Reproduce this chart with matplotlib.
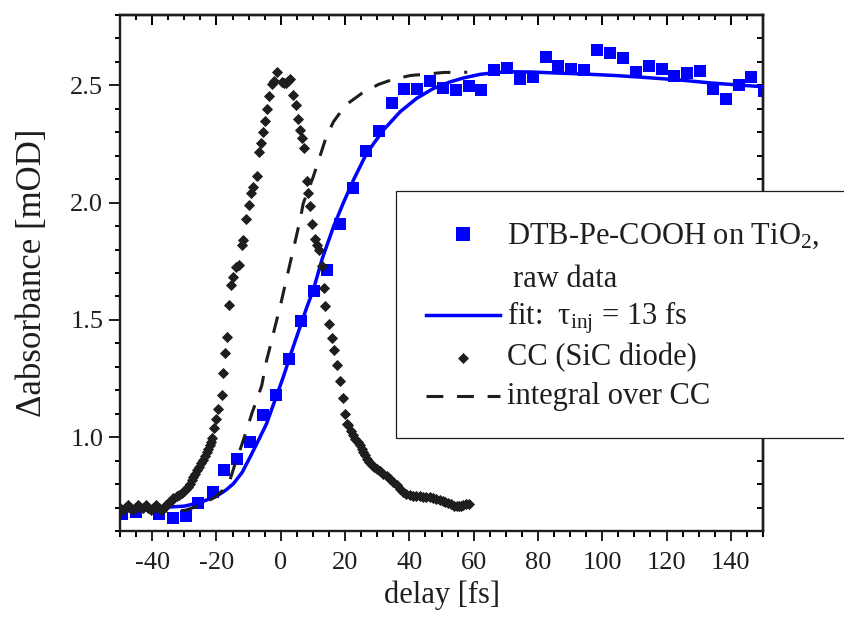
import numpy as np
import matplotlib
matplotlib.use('Agg')
import matplotlib.pyplot as plt
from matplotlib.ticker import MultipleLocator, FixedLocator
from matplotlib.patches import Rectangle
from matplotlib.lines import Line2D

plt.rcParams['font.family'] = ['Liberation Serif', 'DejaVu Serif']
plt.rcParams['mathtext.fontset'] = 'custom'
plt.rcParams['mathtext.rm'] = 'Liberation Serif'
plt.rcParams['mathtext.it'] = 'Liberation Serif:italic'
plt.rcParams['axes.unicode_minus'] = False

# ---------------- data ----------------
raw_x = [-49.3, -45.1, -37.8, -33.6, -29.5, -25.6, -21.0, -17.6, -13.7, -9.5,
         -5.6, -1.5, 2.5, 6.3, 10.4, 14.5, 18.4, 22.6, 26.4, 30.5,
         34.5, 38.4, 42.4, 46.4, 50.4, 54.5, 58.4, 62.2, 66.4, 70.5,
         74.4, 78.4, 82.4, 86.3, 90.3, 94.3, 98.5, 102.4, 106.4, 110.4,
         114.5, 118.5, 122.4, 126.4, 130.4, 134.6, 138.5, 142.5, 146.4, 150.2]
raw_y = [0.671, 0.683, 0.674, 0.657, 0.663, 0.719, 0.766, 0.859, 0.905, 0.980,
         1.096, 1.179, 1.334, 1.496, 1.624, 1.712, 1.911, 2.062, 2.219, 2.305,
         2.425, 2.484, 2.485, 2.518, 2.489, 2.482, 2.496, 2.480, 2.565, 2.575,
         2.526, 2.537, 2.620, 2.582, 2.568, 2.565, 2.651, 2.639, 2.615, 2.557,
         2.582, 2.570, 2.541, 2.551, 2.561, 2.486, 2.442, 2.501, 2.537, 2.477]

fit_x = [-50, -40, -35, -30, -25, -20, -17, -14.7, -12, -9.5,
         -7, -4.4, -2, 0.8, 3.5, 6.0, 8.0, 10.1, 13.0, 16.4,
         19.5, 22.6, 26.7, 31.9, 37.1, 42.3, 47.5, 52.7, 57, 62,
         67, 72, 78, 85, 95, 104, 114, 124, 134, 142, 150]
fit_y = [0.700, 0.700, 0.702, 0.706, 0.722, 0.748, 0.775, 0.802, 0.850, 0.916,
         0.985, 1.058, 1.150, 1.257, 1.370, 1.470, 1.550, 1.627, 1.765, 1.897,
         2.000, 2.096, 2.210, 2.309, 2.387, 2.445, 2.487, 2.515, 2.532, 2.547,
         2.555, 2.558, 2.557, 2.553, 2.548, 2.542, 2.533, 2.523, 2.510, 2.502, 2.494]

cc_x = [-50.0, -49.2, -48.4, -47.6, -46.8, -46.0, -45.2, -44.4, -43.6, -42.8,
        -42.0, -41.2, -40.4, -39.6, -38.8, -38.0, -37.2, -36.4, -35.6, -35.0,
        -34.2, -33.4, -32.4, -31.6, -30.8, -30.0, -29.4, -28.7, -28.2, -27.7,
        -27.2, -26.7, -26.0, -25.3, -24.7, -24.1, -23.5, -23.0, -22.5, -22.0,
        -21.6, -21.3, -20.7, -20.1, -19.4, -18.4, -17.9, -17.3, -16.8, -16.1,
        -15.5, -14.7, -13.9, -12.9, -12.0, -11.6, -10.8, -10.0, -9.3, -8.5,
        -7.5, -6.7, -6.0, -5.4, -4.8, -4.2, -3.5, -2.7, -2.0, -1.1,
        0.4, 1.0, 1.6, 2.3, 2.9, 3.9, 4.7, 5.3, 5.9, 6.5,
        7.3, 8.1, 8.6, 9.1, 9.8, 10.7, 11.4, 11.9, 12.8, 13.3,
        13.9, 15.1, 15.9, 16.7, 17.6, 18.4, 19.5, 20.0, 20.7, 21.0,
        21.8, 22.5, 23.1, 23.9, 24.7, 25.2, 25.7, 26.2, 26.7, 27.5,
        28.3, 29.1, 29.9, 30.9, 31.9, 32.9, 34.0, 35.0, 36.1, 37.1,
        38.1, 39.1, 40.2, 41.2, 42.2, 43.3, 44.3, 45.3, 46.4, 47.4,
        48.4, 49.5, 50.4, 51.2, 52.1, 53.0, 53.9, 54.7, 55.5, 56.2,
        56.8, 57.6, 58.4]
cc_y = [0.700, 0.690, 0.700, 0.710, 0.700, 0.690, 0.700, 0.710, 0.700, 0.700,
        0.710, 0.700, 0.690, 0.700, 0.710, 0.700, 0.690, 0.700, 0.710, 0.720,
        0.730, 0.740, 0.750, 0.755, 0.762, 0.770, 0.780, 0.788, 0.800, 0.816,
        0.830, 0.845, 0.860, 0.873, 0.890, 0.902, 0.920, 0.937, 0.950, 0.966,
        0.980, 0.998, 1.041, 1.079, 1.122, 1.179, 1.274, 1.361, 1.428, 1.563,
        1.648, 1.681, 1.726, 1.736, 1.819, 1.840, 1.930, 1.992, 2.039, 2.067,
        2.113, 2.214, 2.255, 2.302, 2.349, 2.400, 2.456, 2.504, 2.520, 2.556,
        2.515, 2.510, 2.511, 2.520, 2.526, 2.459, 2.416, 2.355, 2.309, 2.274,
        2.231, 2.093, 2.039, 1.985, 1.908, 1.847, 1.819, 1.800, 1.729, 1.637,
        1.559, 1.482, 1.421, 1.371, 1.307, 1.240, 1.165, 1.098, 1.058, 1.050,
        1.027, 1.010, 0.994, 0.980, 0.965, 0.950, 0.937, 0.925, 0.909, 0.895,
        0.880, 0.872, 0.866, 0.855, 0.845, 0.835, 0.823, 0.810, 0.795, 0.780,
        0.766, 0.758, 0.752, 0.750, 0.749, 0.748, 0.747, 0.746, 0.745, 0.742,
        0.738, 0.734, 0.728, 0.723, 0.719, 0.713, 0.708, 0.705, 0.705, 0.708,
        0.710, 0.714, 0.717]

int_x = [-50, -40, -32, -29.8, -25.1, -20.4, -16.3, -14.2, -12.7, -10.6,
         -9.0, -7.5, -5.9, -4.4, -2.8, -1.8, -0.2, 2.9, 6.0, 7.0,
         10.1, 14.1, 16.4, 20.2, 25.2, 30.4, 35.0, 40.3, 45.4, 50.6,
         55.3, 58.0]
int_y = [0.685, 0.685, 0.686, 0.688, 0.709, 0.745, 0.795, 0.887, 0.944, 1.030,
         1.101, 1.157, 1.221, 1.328, 1.413, 1.470, 1.556, 1.741, 1.925, 1.997,
         2.110, 2.278, 2.345, 2.416, 2.466, 2.504, 2.526, 2.542, 2.548, 2.555,
         2.556, 2.556]

x_major = [-40, -20, 0, 20, 40, 60, 80, 100, 120, 140]
y_major = [1.0, 1.5, 2.0, 2.5]

legend_labels = ['DTB-Pe-COOH on TiO$_2$,', 'raw data',
                 'fit:  τ$_{\\rm inj}$ = 13 fs', 'CC (SiC diode)',
                 'integral over CC']

# ---------------- figure ----------------
W, H = 844, 627
BLUE = '#0000ff'
DARK = '#1e1e1e'

fig = plt.figure(figsize=(W / 100, H / 100), dpi=100)
L, R, T, B = 120, 763, 15, 531
ax = fig.add_axes([L / W, 1 - B / H, (R - L) / W, (B - T) / H])

ax.plot(raw_x, raw_y, 's', color=BLUE, ms=8, mew=0, zorder=2)
ax.plot(fit_x, fit_y, '-', color=BLUE, lw=2.5, zorder=3)
ax.plot(int_x, int_y, '-', color=DARK, lw=2.2, dashes=(5.5, 4.5), zorder=4)
ax.plot(cc_x, cc_y, 'D', color=DARK, ms=5.2, mew=0.6, zorder=5)

ax.set_xlim(-50, 150)
ax.set_ylim(0.6, 2.8)

ax.xaxis.set_major_locator(FixedLocator(x_major))
ax.xaxis.set_minor_locator(MultipleLocator(5))
ax.yaxis.set_major_locator(FixedLocator(y_major))
ax.yaxis.set_minor_locator(MultipleLocator(0.1))
ax.set_xticklabels([str(v) for v in x_major])
ax.set_yticklabels(['%.1f' % v for v in y_major])

for s in ax.spines.values():
    s.set_linewidth(1.7)
    s.set_color(DARK)

ax.tick_params(axis='x', which='major', direction='out', length=7, width=1.4,
               pad=8, labelsize=19, colors=DARK)
ax.tick_params(axis='x', which='minor', direction='out', length=4.3, width=1.4)
ax.tick_params(axis='y', which='major', direction='out', length=8, width=1.4,
               pad=4, labelsize=19, colors=DARK)
ax.tick_params(axis='y', which='minor', direction='out', length=3.6, width=1.4)

secx = ax.secondary_xaxis('top')
secx.xaxis.set_major_locator(FixedLocator(x_major))
secx.xaxis.set_minor_locator(MultipleLocator(5))
secx.tick_params(which='major', direction='in', length=7, width=1.4, labeltop=False)
secx.tick_params(which='minor', direction='in', length=3.6, width=1.4)
secx.spines['top'].set_linewidth(1.7)

secy = ax.secondary_yaxis('right')
secy.yaxis.set_major_locator(FixedLocator(y_major))
secy.yaxis.set_minor_locator(MultipleLocator(0.1))
secy.tick_params(which='major', direction='in', length=4.5, width=1.4, labelright=False)
secy.tick_params(which='minor', direction='in', length=4.3, width=1.4)
secy.spines['right'].set_linewidth(1.7)

ax.set_xlabel('delay [fs]', fontsize=22, color=DARK)
ax.xaxis.set_label_coords(0.5, (B - 580) / (B - T))
ax.xaxis.label.set_va('top')
ax.set_ylabel('Δabsorbance [mOD]', fontsize=25, color=DARK)
ax.yaxis.set_label_coords((49 - L) / (R - L), 0.5)

# ---------------- legend (drawn in figure pixels) ----------------
def fx(px):
    return px / W

def fy(py):
    return 1 - py / H

box = Rectangle((fx(396), fy(438)), fx(880) - fx(396), fy(191) - fy(438),
                transform=fig.transFigure, facecolor='white', edgecolor=DARK,
                lw=0.9, zorder=10)
fig.add_artist(box)

fig.add_artist(Line2D([fx(463)], [fy(234)], marker='s', color=BLUE, ms=9.5, mew=0,
                      transform=fig.transFigure, zorder=11))
fig.add_artist(Line2D([fx(426), fx(500)], [fy(315), fy(315)], color=BLUE, lw=2.5,
                      transform=fig.transFigure, zorder=11))
fig.add_artist(Line2D([fx(463)], [fy(358)], marker='D', color=DARK, ms=5.5, mew=0.5,
                      transform=fig.transFigure, zorder=11))
fig.add_artist(Line2D([fx(426), fx(500)], [fy(396), fy(396)], color=DARK, lw=2.2,
                      dashes=(5.5, 4.5), transform=fig.transFigure, zorder=11))

text_pos = [(507, 244), (513, 287), (507, 324), (507, 365), (507, 404)]
for lab, (px, py) in zip(legend_labels, text_pos):
    fig.text(fx(px), fy(py), lab, fontsize=22, color=DARK, va='baseline',
             ha='left', zorder=12)

fig.savefig('out.png', dpi=100)
